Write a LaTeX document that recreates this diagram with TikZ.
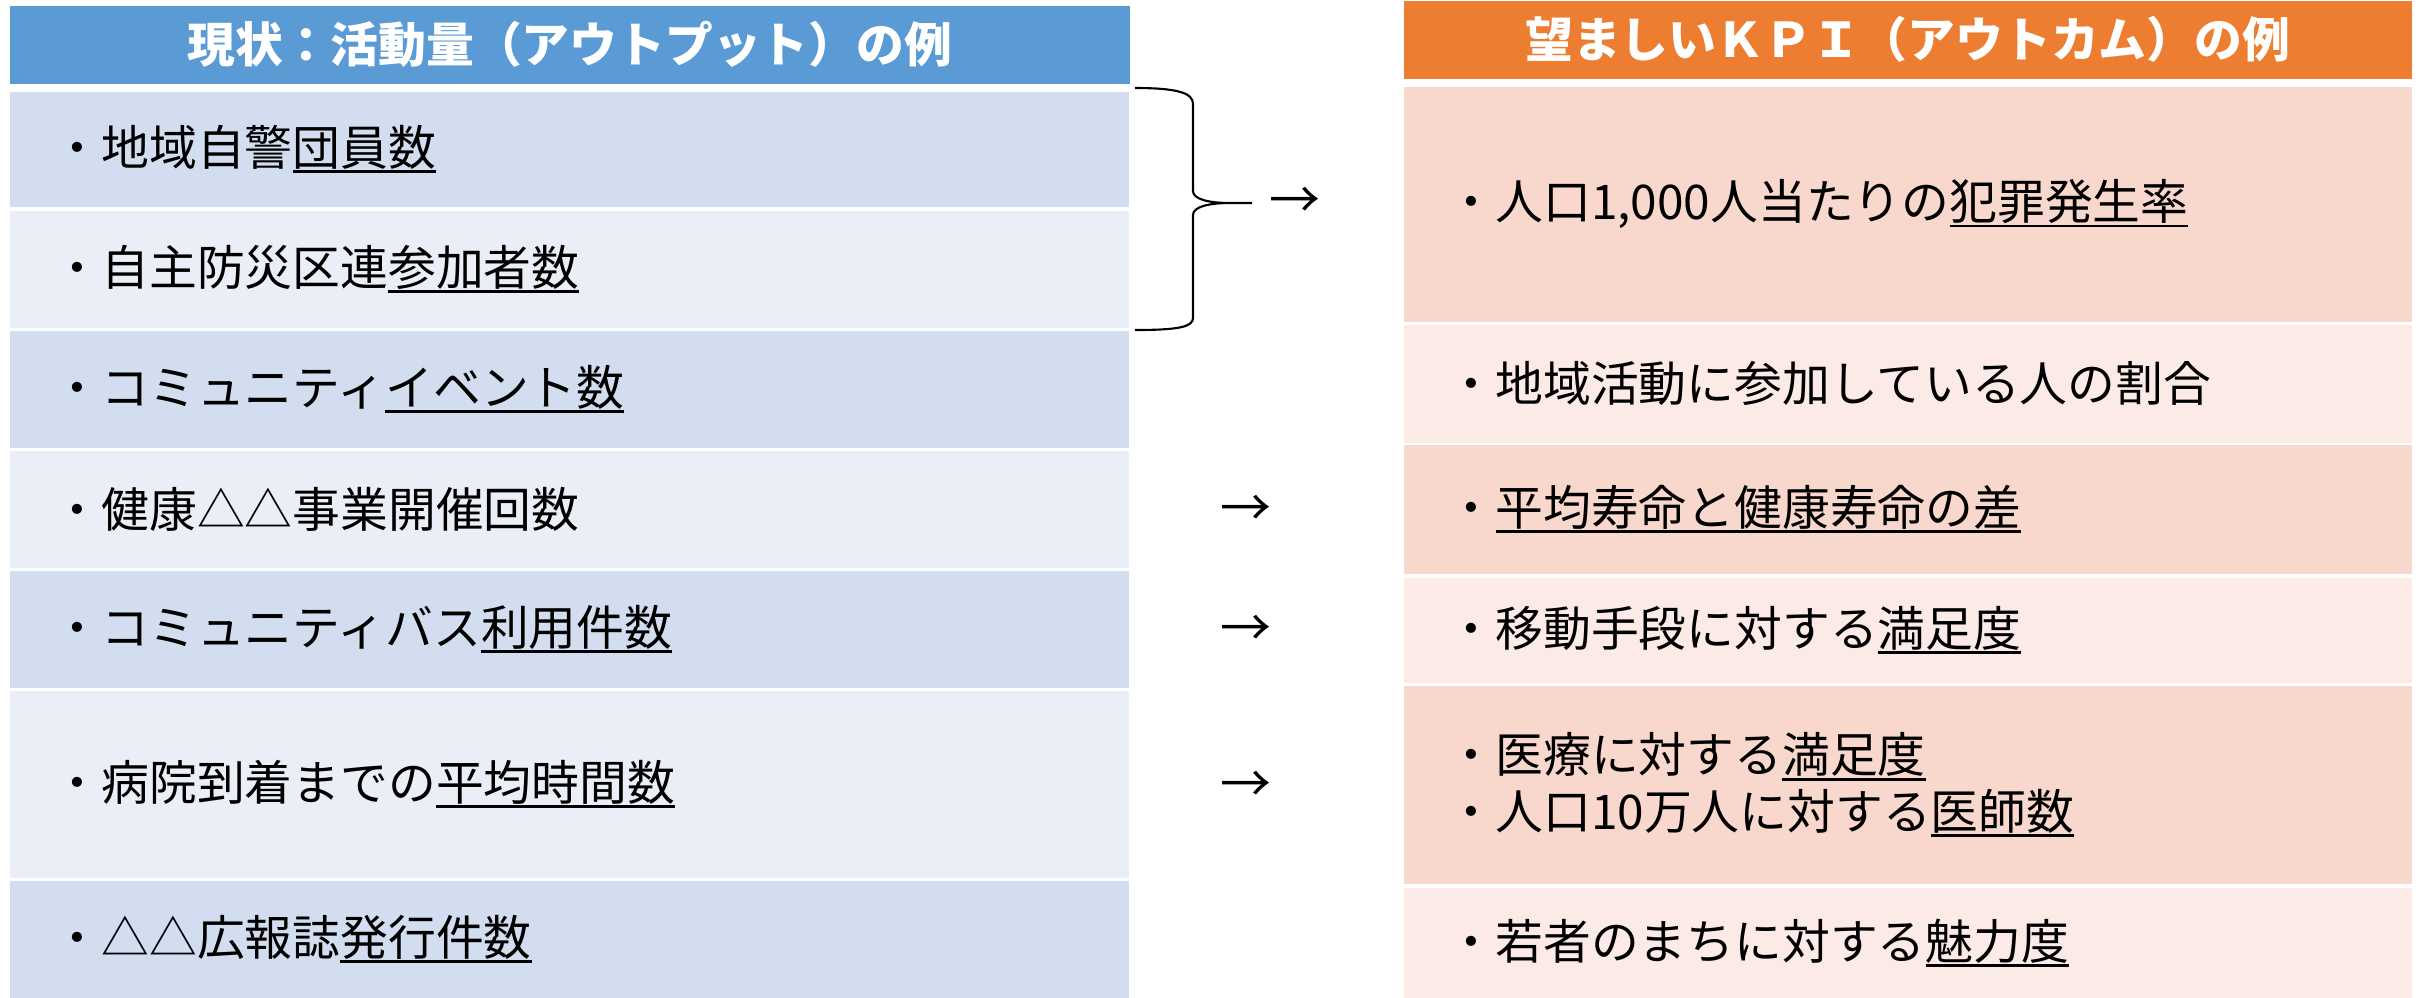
\documentclass[tikz,border=0pt]{standalone}
\usepackage{fontspec}
\setmainfont{Noto Sans CJK JP}
\usepackage{xcolor}

\definecolor{hdrblue}{HTML}{5B9BD5}
\definecolor{hdrorange}{HTML}{ED7D31}
\definecolor{bluedark}{HTML}{D2DEEF}
\definecolor{bluelight}{HTML}{EAEFF7}
\definecolor{peachdark}{HTML}{F8D7CD}
\definecolor{peachlight}{HTML}{FBEAE6}

% underlined part of a label
\newcommand{\uln}[1]{\setbox0\hbox{#1}\rlap{\rule[-0.16em]{\wd0}{0.06em}}\box0}

\tikzset{
  every node/.style={font=\fontsize{13.6pt}{16pt}\selectfont},
  header/.style={anchor=north west, text=white, inner sep=0pt, minimum height=7.8mm,
    font=\fontsize{13.6pt}{16pt}\selectfont\bfseries},
  leftrow/.style={anchor=north west, inner xsep=4.4mm, inner ysep=0pt, text width=103.1mm, align=left},
  rightrow/.style={anchor=north west, inner xsep=4.4mm, inner ysep=0pt, text width=92mm, align=left},
  arrowmark/.style={inner sep=0pt, font=\fontsize{14.5pt}{16pt}\selectfont},
}

\begin{document}
\begin{tikzpicture}[x=0.1mm, y=-0.1mm]
    \useasboundingbox (0,0) rectangle (2420,997);

    % Left column: outputs
    \node[header, fill=hdrblue, minimum width=112mm] (lhead) at (9,5) {現状：活動量（アウトプット）の例};
    \node[leftrow, fill=bluedark, minimum height=11.5mm] (l1) at (9,91) {・地域自警\uln{団員数}};
    \node[leftrow, fill=bluelight, minimum height=11.7mm] (l2) at (9,210) {・自主防災区連\uln{参加者数}};
    \node[leftrow, fill=bluedark, minimum height=11.7mm] (l3) at (9,330) {・コミュニティ\uln{イベント数}};
    \node[leftrow, fill=bluelight, minimum height=11.7mm] (l4) at (9,450) {・健康△△事業開催回数};
    \node[leftrow, fill=bluedark, minimum height=11.7mm] (l5) at (9,570) {・コミュニティバス\uln{利用件数}};
    \node[leftrow, fill=bluelight, minimum height=18.7mm] (l6) at (9,690) {・病院到着までの\uln{平均時間数}};
    \node[leftrow, fill=bluedark, minimum height=11.7mm] (l7) at (9,880) {・△△広報誌\uln{発行件数}};

    % Right column: desired KPIs
    \node[header, fill=hdrorange, minimum width=100.8mm] (rhead) at (1403,0) {望ましいＫＰＩ（アウトカム）の例};
    \node[rightrow, fill=peachdark, minimum height=23.5mm] (r1) at (1403,86) {・人口1,000人当たりの\uln{犯罪発生率}};
    \node[rightrow, fill=peachlight, minimum height=11.8mm] (r2) at (1403,324) {・地域活動に参加している人の割合};
    \node[rightrow, fill=peachdark, minimum height=12.9mm] (r3) at (1403,444) {・\uln{平均寿命と健康寿命の差}};
    \node[rightrow, fill=peachlight, minimum height=10.5mm] (r4) at (1403,577) {・移動手段に対する\uln{満足度}};
    \node[rightrow, fill=peachdark, minimum height=19.8mm] (r5) at (1403,685) {・医療に対する\uln{満足度}\\・人口10万人に対する\uln{医師数}};
    \node[rightrow, fill=peachlight, minimum height=11.0mm] (r6) at (1403,887) {・若者のまちに対する\uln{魅力度}};

    % Brace over the first two outputs
    \draw[line width=0.6pt] (1135,88) .. controls (1178,88) and (1193,93) .. (1193,104)
        -- (1193,191) .. controls (1193,199) and (1208,203) .. (1230,203) -- (1252,203)
        -- (1230,203) .. controls (1208,203) and (1193,207) .. (1193,215)
        -- (1193,318) .. controls (1193,327) and (1178,330) .. (1135,330);

    % Arrow marks
    \node[arrowmark] (a1) at (1295,203) {→};
    \node[arrowmark] (a2) at (1246,511) {→};
    \node[arrowmark] (a3) at (1246,631) {→};
    \node[arrowmark] (a4) at (1246,787) {→};
\end{tikzpicture}
\end{document}
